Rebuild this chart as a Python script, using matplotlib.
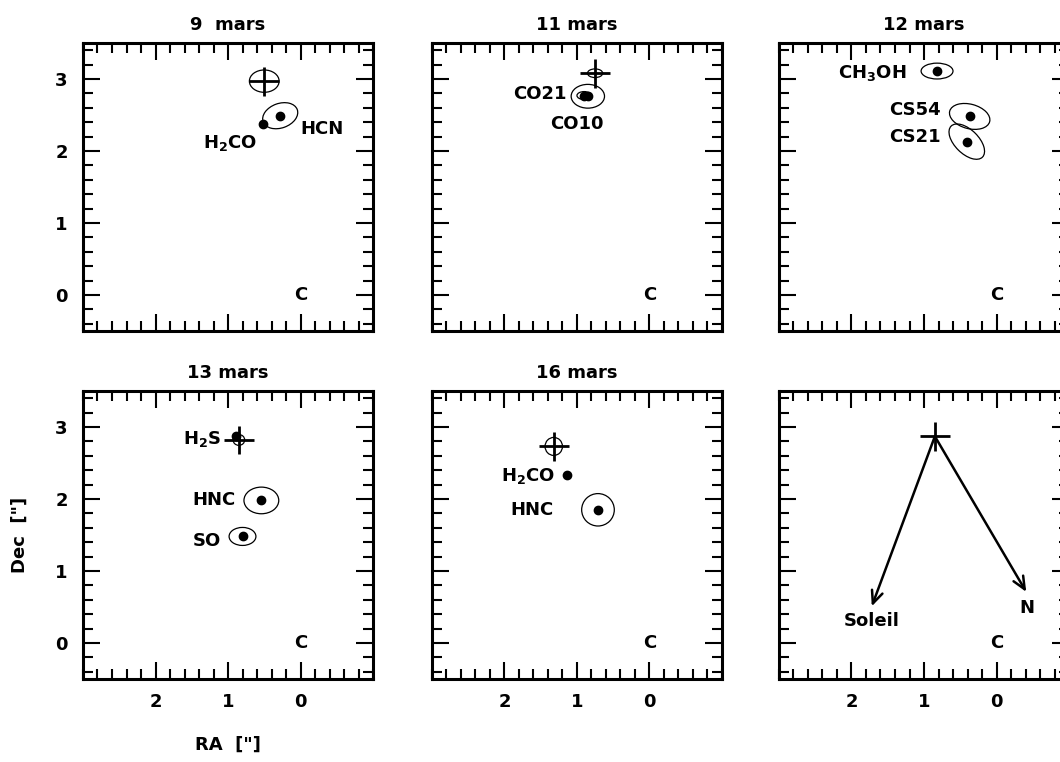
import matplotlib
matplotlib.use('Agg')
import matplotlib.pyplot as plt
from matplotlib.patches import Ellipse
from matplotlib.ticker import MultipleLocator

plt.rcParams['font.family'] = ['DejaVu Sans']
plt.rcParams['font.weight'] = 'bold'
plt.rcParams['mathtext.default'] = 'regular'

titles = ['9  mars', '11 mars', '12 mars', '13 mars', '16 mars', '']

# cross (position + error bars) per panel, None when absent
cross_ra = [0.50, 0.75, None, 0.85, 1.32, 0.85]
cross_dec = [2.97, 3.08, None, 2.82, 2.73, 2.87]
cross_ell_w = [0.41, 0.21, None, 0.16, 0.24, None]
cross_ell_h = [0.31, 0.12, None, 0.15, 0.25, None]

# molecules: panel index, name, ra, dec, ellipse w, h, angle, label ra, label dec
mol_panel = [0, 0, 1, 1, 2, 2, 2, 3, 3, 3, 4, 4]
mol_name = ['HCN', 'H$_2$CO', 'CO21', 'CO10', 'CH$_3$OH', 'CS54', 'CS21',
            'H$_2$S', 'HNC', 'SO', 'H$_2$CO', 'HNC']
mol_ra = [0.28, 0.52, 0.90, 0.85, 0.82, 0.37, 0.41, 0.89, 0.54, 0.80, 1.14, 0.71]
mol_dec = [2.49, 2.37, 2.77, 2.76, 3.11, 2.48, 2.13, 2.87, 1.98, 1.48, 2.34, 1.85]
mol_ell_w = [0.50, 0, 0.20, 0.46, 0.44, 0.57, 0.61, 0, 0.48, 0.37, 0, 0.45]
mol_ell_h = [0.34, 0, 0.11, 0.33, 0.22, 0.34, 0.33, 0, 0.37, 0.25, 0, 0.45]
mol_ell_ang = [-20, 0, 0, 0, 0, 15, 45, 0, 0, 0, 0, 0]
mol_lab_ra = [-0.29, 0.97, 1.51, 1.00, 1.72, 1.12, 1.12, 1.36, 1.20, 1.29, 1.67, 1.62]
mol_lab_dec = [2.31, 2.11, 2.79, 2.38, 3.08, 2.57, 2.20, 2.84, 1.98, 1.42, 2.32, 1.85]

# last panel: direction arrows
arrow_names = ['Soleil', 'N']
arrow_ra = [1.72, -0.41]
arrow_dec = [0.51, 0.71]
arrow_lab_ra = [1.72, -0.42]
arrow_lab_dec = [0.30, 0.48]

fig = plt.figure(figsize=(10.6, 7.62), dpi=100)
lefts = [0.0783, 0.4075, 0.7349]
bottoms = [0.5656, 0.1089]
W, H = 0.2736, 0.378

axes = []
for r in range(2):
    for c in range(3):
        ax = fig.add_axes([lefts[c], bottoms[r], W, H])
        ax.set_xlim(3, -1)
        ax.set_ylim(-0.5, 3.5)
        ax.xaxis.set_major_locator(MultipleLocator(1))
        ax.xaxis.set_minor_locator(MultipleLocator(0.2))
        ax.yaxis.set_major_locator(MultipleLocator(1))
        ax.yaxis.set_minor_locator(MultipleLocator(0.2))
        ax.tick_params(which='both', direction='in', top=True, right=True,
                       width=1.5, labelsize=13)
        ax.tick_params(which='major', length=12.5)
        ax.tick_params(which='minor', length=7)
        ax.tick_params(axis='y', pad=11)
        ax.tick_params(axis='x', pad=10)
        for s in ax.spines.values():
            s.set_linewidth(2.2)
        if c != 0:
            ax.tick_params(labelleft=False)
        if r != 1:
            ax.tick_params(labelbottom=False)
        ax.set_xticks([2, 1, 0])
        ax.set_yticks([0, 1, 2, 3])
        ax.text(0, 0, 'C', ha='center', va='center', fontsize=13)
        axes.append(ax)

for i, ax in enumerate(axes):
    if titles[i]:
        ax.set_title(titles[i], fontsize=13, fontweight='bold', pad=9)
    if cross_ra[i] is not None:
        ax.errorbar(cross_ra[i], cross_dec[i], xerr=0.21, yerr=0.2, fmt='none',
                    ecolor='black', elinewidth=2, capsize=0)
        if cross_ell_w[i] is not None:
            ax.add_patch(Ellipse((cross_ra[i], cross_dec[i]), cross_ell_w[i],
                                 cross_ell_h[i], fill=False, lw=0.9, color='black'))

for k in range(len(mol_name)):
    ax = axes[mol_panel[k]]
    ax.plot(mol_ra[k], mol_dec[k], 'o', color='black', markersize=6)
    if mol_ell_w[k] > 0:
        ax.add_patch(Ellipse((mol_ra[k], mol_dec[k]), mol_ell_w[k], mol_ell_h[k],
                             angle=mol_ell_ang[k], fill=False, lw=0.9, color='black'))
    ax.text(mol_lab_ra[k], mol_lab_dec[k], mol_name[k], ha='center', va='center',
            fontsize=13)

ax = axes[5]
for k in range(len(arrow_names)):
    ax.annotate('', xy=(arrow_ra[k], arrow_dec[k]), xytext=(cross_ra[5], cross_dec[5]),
                arrowprops=dict(arrowstyle='->,head_length=0.9,head_width=0.4',
                                lw=1.8, color='black', shrinkA=0, shrinkB=0))
    ax.text(arrow_lab_ra[k], arrow_lab_dec[k], arrow_names[k], ha='center',
            va='center', fontsize=13)

fig.text(228 / 1060, 1 - 745 / 762, 'RA  ["]', ha='center', va='center', fontsize=13)
fig.text(20 / 1060, 1 - 535 / 762, 'Dec  ["]', ha='center', va='center', fontsize=13,
         rotation=90)

plt.savefig('out.png', dpi=100)
